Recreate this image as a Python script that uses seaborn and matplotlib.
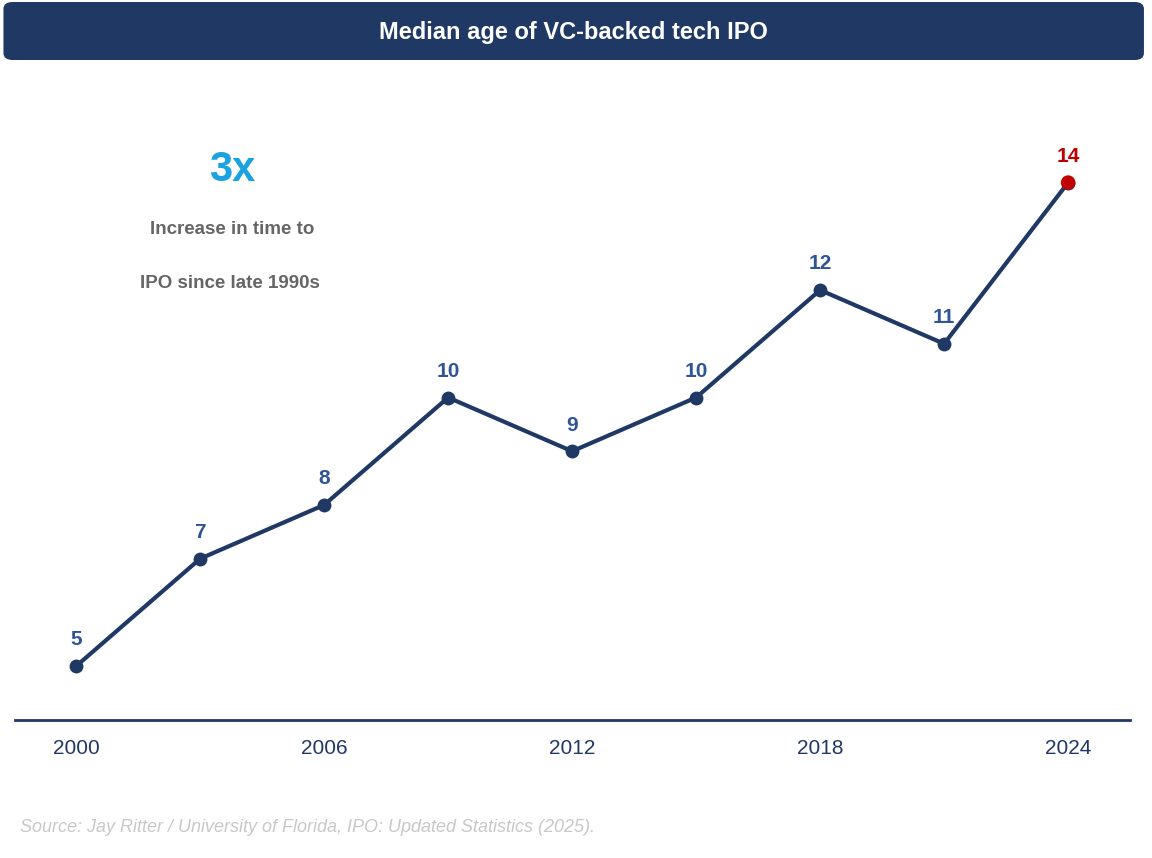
import matplotlib
matplotlib.use("Agg")
import matplotlib.pyplot as plt
import seaborn as sns
import pandas as pd
from matplotlib.patches import FancyBboxPatch

# Data
years = [2000, 2003, 2006, 2009, 2012, 2015, 2018, 2021, 2024]
median_age = [5, 7, 8, 10, 9, 10, 12, 11, 14]
tick_years = [2000, 2006, 2012, 2018, 2024]

df = pd.DataFrame({"Year": years, "Age": median_age})

navy = "#203864"
label_blue = "#2f5597"
red = "#c00000"

sns.set_style("white")
plt.rcParams["font.family"] = ["Liberation Sans", "DejaVu Sans"]

fig = plt.figure(figsize=(11.52, 8.58), dpi=100)
ax = fig.add_axes([0.013, 0.161, 0.968, 0.7226])

sns.lineplot(data=df, x="Year", y="Age", ax=ax, color=navy, linewidth=3,
             marker="o", markersize=10, markeredgewidth=0)
last = df.iloc[[-1]]
sns.scatterplot(data=last, x="Year", y="Age", ax=ax, color=red, s=110,
                edgecolor="none", zorder=5)

for yr, v in zip(years, median_age):
    c = red if yr == years[-1] else label_blue
    ax.annotate(str(v), (yr, v), xytext=(0, 12), textcoords="offset points",
                ha="center", va="bottom", fontsize=15, fontweight="bold", color=c)

ax.set_xlim(1998.52, 2025.5)
ax.set_ylim(4.0, 15.54)
ax.set_xticks(tick_years)
ax.set_xticklabels([str(t) for t in tick_years], fontsize=15, color=navy)
ax.tick_params(axis="x", length=0, pad=14)
ax.set_yticks([])
ax.set_xlabel("")
ax.set_ylabel("")
for s in ["top", "right", "left"]:
    ax.spines[s].set_visible(False)
ax.spines["bottom"].set_color(navy)
ax.spines["bottom"].set_linewidth(2)

# Callout text
fig.text(232 / 1152, 1 - 170 / 858, "3x", ha="center", va="center",
         fontsize=30, fontweight="bold", color="#1aa3e0")
fig.text(232 / 1152, 1 - 229 / 858, "Increase in time to", ha="center", va="center",
         fontsize=13.5, fontweight="bold", color="#666666")
fig.text(230 / 1152, 1 - 284 / 858, "IPO since late 1990s", ha="center", va="center",
         fontsize=13.5, fontweight="bold", color="#666666")

# Title bar
bar = FancyBboxPatch((0.003, 1 - 60 / 858), 0.99, 58 / 858,
                     boxstyle="round,pad=0,rounding_size=0.008",
                     transform=fig.transFigure, facecolor="#1f3864",
                     edgecolor="none", zorder=0)
fig.patches.append(bar)
fig.text(573 / 1152, 1 - 32 / 858, "Median age of VC-backed tech IPO",
         ha="center", va="center", fontsize=17, fontweight="bold", color="white")

fig.text(20 / 1152, 1 - 827 / 858,
         "Source: Jay Ritter / University of Florida, IPO: Updated Statistics (2025).",
         ha="left", va="center", fontsize=13, style="italic", color="#c8c8c8")

fig.savefig("out.png", dpi=100, facecolor="white")
